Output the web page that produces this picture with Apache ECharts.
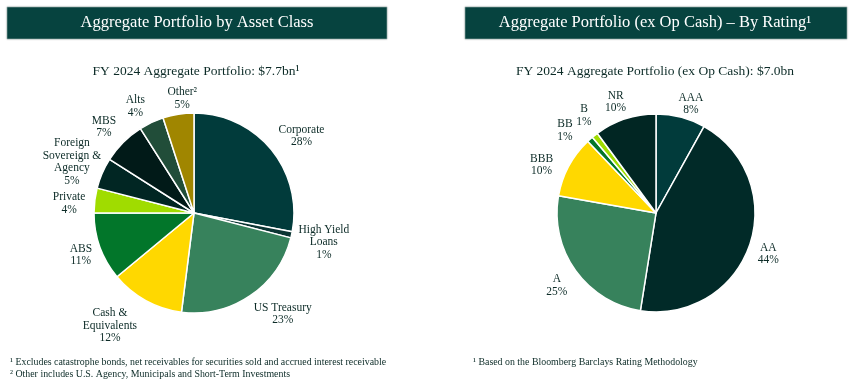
<!DOCTYPE html>
<html>
<head>
<meta charset="utf-8">
<script src="https://cdn.jsdelivr.net/npm/echarts@6/dist/echarts.min.js"></script>
<style>
html,body{margin:0;padding:0;background:#fff;}
#chart{width:853px;height:381px;}
</style>
</head>
<body>
<div id="chart"></div>
<script>
// ---- Data ----
var assetClasses = ['Corporate', 'High Yield\nLoans', 'US Treasury', 'Cash &\nEquivalents', 'ABS', 'Private', 'Foreign\nSovereign &\nAgency', 'MBS', 'Alts', 'Other\u00B2'];
var assetValues = [28, 1, 23, 12, 11, 4, 5, 7, 4, 5];
var assetColors = ['#013B3B', '#0B3533', '#37825C', '#FFD800', '#02762A', '#A0DC00', '#012623', '#011A18', '#214D39', '#A08600'];

var ratings = ['AAA', 'AA', 'A', 'BBB', 'BB', 'B', 'NR'];
var ratingValues = [8, 44, 25, 10, 1, 1, 10];
var ratingColors = ['#013B3B', '#012A28', '#37825C', '#FFD800', '#02762A', '#A0DC00', '#012623'];

var leftHeader = 'Aggregate Portfolio by Asset Class';
var rightHeader = 'Aggregate Portfolio (ex Op Cash) \u2013 By Rating\u00B9';
var leftSub = 'FY 2024 Aggregate Portfolio: $7.7bn\u00B9';
var rightSub = 'FY 2024 Aggregate Portfolio (ex Op Cash): $7.0bn';
var leftNotes = '\u00B9 Excludes catastrophe bonds, net receivables for securities sold and accrued interest receivable\n\u00B2 Other includes U.S. Agency, Municipals and Short-Term Investments';
var rightNotes = '\u00B9 Based on the Bloomberg Barclays Rating Methodology';

// ---- Layout tweaks for label placement (pixels, not data) ----
var leftNudge = [[5, 8], [0, 0], [14, -9], [-20, -4], [12, -3], [7, 7], [0, 2], [4, 8], [-2, 14], [9, 17]];
var rightNudge = [[4, 10], [-4, 1], [1, 1], [-6, 10], [-9, 9], [4, -1], [-2, 6]];

// ---- Chart ----
var SERIF = "Georgia, 'Liberation Serif', serif";
var TXT = '#0C2B27';
var chart = echarts.init(document.getElementById('chart'), null, {renderer: 'canvas'});

function toData(names, vals, colors) {
  return names.map(function (n, i) { return {name: n, value: vals[i], itemStyle: {color: colors[i]}}; });
}

function piePair(names, vals, colors, center, r, labelR, nudge) {
  return [
    {
      type: 'pie', center: center, radius: [0, r], startAngle: 90, clockwise: true,
      silent: true, animation: false,
      itemStyle: {borderColor: '#fff', borderWidth: 1.5},
      label: {show: false}, labelLine: {show: false},
      data: toData(names, vals, colors)
    },
    {
      type: 'pie', center: center, radius: [r, labelR], startAngle: 90, clockwise: true,
      silent: true, animation: false, avoidLabelOverlap: false,
      itemStyle: {color: 'rgba(0,0,0,0)', borderWidth: 0},
      label: {
        show: true, position: 'inside', formatter: '{b}\n{c}%',
        fontFamily: SERIF, fontSize: 11.5, lineHeight: 12.5, color: TXT, align: 'center'
      },
      labelLine: {show: false},
      labelLayout: function (p) {
        var n = nudge[p.dataIndex] || [0, 0];
        return {dx: n[0], dy: n[1], hideOverlap: false};
      },
      data: names.map(function (n, i) { return {name: n, value: vals[i]}; })
    }
  ];
}

var hStyle = {color: '#fff', fontFamily: SERIF, fontSize: 16.5, fontWeight: 'normal'};
var sStyle = {color: TXT, fontFamily: SERIF, fontSize: 13.5, fontWeight: 'normal'};
var nStyle = {color: TXT, fontFamily: SERIF, fontSize: 9.9, lineHeight: 12, fontWeight: 'normal'};

var option = {
  backgroundColor: '#fff',
  animation: false,
  graphic: [
    {type: 'rect', shape: {x: 7, y: 7, width: 380, height: 32},
     style: {fill: '#06433F', stroke: '#9DB5B2', lineWidth: 0.6, shadowBlur: 2, shadowColor: 'rgba(0,0,0,0.2)'}},
    {type: 'rect', shape: {x: 465, y: 7, width: 382, height: 32},
     style: {fill: '#06433F', stroke: '#9DB5B2', lineWidth: 0.6, shadowBlur: 2, shadowColor: 'rgba(0,0,0,0.2)'}}
  ],
  title: [
    {text: leftHeader, left: 197, top: 14, padding: 0, textAlign: 'center', textStyle: hStyle},
    {text: rightHeader, left: 655, top: 14, padding: 0, textAlign: 'center', textStyle: hStyle},
    {text: leftSub, left: 196, top: 64, padding: 0, textAlign: 'center', textStyle: sStyle},
    {text: rightSub, left: 655, top: 64, padding: 0, textAlign: 'center', textStyle: sStyle},
    {text: leftNotes, left: 10, top: 356, padding: 0, textStyle: nStyle},
    {text: rightNotes, left: 473, top: 356, padding: 0, textStyle: nStyle}
  ],
  series: [].concat(
    piePair(assetClasses, assetValues, assetColors, [194, 213], 100, 160, leftNudge),
    piePair(ratings, ratingValues, ratingColors, [656, 213], 99, 141, rightNudge)
  )
};
chart.setOption(option);
</script>
</body>
</html>
